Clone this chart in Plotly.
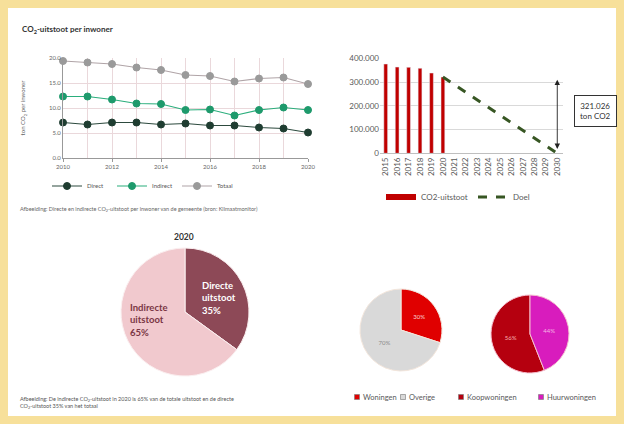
import plotly.graph_objects as go

# ---------------- data ----------------
line_years = [2010, 2011, 2012, 2013, 2014, 2015, 2016, 2017, 2018, 2019, 2020]
direct = [7.1, 6.7, 7.1, 7.1, 6.7, 6.9, 6.5, 6.5, 6.1, 5.9, 5.1]
indirect = [12.3, 12.3, 11.7, 10.9, 10.8, 9.6, 9.7, 8.5, 9.6, 10.1, 9.6]
totaal = [19.4, 19.1, 18.8, 18.1, 17.6, 16.6, 16.4, 15.3, 15.9, 16.1, 14.8]
line_xticks = [2010, 2012, 2014, 2016, 2018, 2020]

bar_years = [2015, 2016, 2017, 2018, 2019, 2020]
uitstoot = [376000, 363000, 362000, 358000, 338000, 321026]
doel_years = [2020, 2030]
doel = [321026, 0]
axis_years = list(range(2015, 2031))
bar_yticks = [0, 100000, 200000, 300000, 400000]
bar_yticktext = ["0", "100.000", "200.000", "300.000", "400.000"]

pie_labels = ["Directe uitstoot", "Indirecte uitstoot"]
pie_values = [35, 65]
pieA_labels = ["Woningen", "Overige"]
pieA_values = [30, 70]
pieB_labels = ["Koopwoningen", "Huurwoningen"]
pieB_values = [56, 44]

# ---------------- helpers ----------------
W, H = 624, 424
def px(x):
    return x / W
def py(y):
    return 1 - y / H

FONT = "Lato"
GREY = "#595959"

fig = go.Figure()

# ---- line chart ----
for name, vals, col, mcol in [("Direct", direct, "#2d4a3e", "#1f3d31"),
                              ("Indirect", indirect, "#2aae7c", "#1e9a6c"),
                              ("Totaal", totaal, "#b0a4a7", "#9a9a9a")]:
    fig.add_trace(go.Scatter(x=line_years, y=vals, name=name, mode="lines+markers",
                             line=dict(color=col, width=1.2),
                             marker=dict(color=mcol, size=7, line=dict(color=mcol, width=1)),
                             xaxis="x", yaxis="y", legend="legend", cliponaxis=False))

# ---- bar chart ----
fig.add_trace(go.Bar(x=bar_years, y=uitstoot, name="CO2-uitstoot", marker_color="#c00000",
                     width=0.33, xaxis="x2", yaxis="y2", showlegend=False))
fig.add_trace(go.Scatter(x=[None], y=[None], name="CO2-uitstoot", mode="lines",
                         line=dict(color="#c00000", width=6), xaxis="x2", yaxis="y2",
                         legend="legend2"))
fig.add_trace(go.Scatter(x=doel_years, y=doel, name="Doel", mode="lines",
                         line=dict(color="#375623", width=3, dash="dash"),
                         xaxis="x2", yaxis="y2", legend="legend2"))

# ---- big pie ----
fig.add_trace(go.Pie(labels=pie_labels, values=pie_values, sort=False, direction="clockwise",
                     rotation=0, textinfo="none", hoverinfo="label+percent",
                     marker=dict(colors=["#8d4957", "#f1c9ce"], line=dict(color="#fbeff0", width=1)),
                     domain=dict(x=[px(121), px(249)], y=[py(376), py(248)]), showlegend=False))

# ---- small pies ----
fig.add_trace(go.Pie(labels=pieA_labels, values=pieA_values, sort=False, direction="clockwise",
                     rotation=0, textinfo="percent", textposition="inside",
                     insidetextorientation="horizontal",
                     textfont=dict(size=6, color=["#f8d0d0", "#8a8a8a"], family=FONT),
                     marker=dict(colors=["#e00000", "#d9d9d9"], line=dict(color="#f3e6dc", width=1)),
                     domain=dict(x=[px(360), px(442)], y=[py(371), py(289)]), showlegend=False))
fig.add_trace(go.Pie(labels=pieB_labels, values=pieB_values, sort=False, direction="clockwise",
                     rotation=158.4, textinfo="percent", textposition="inside",
                     insidetextorientation="horizontal",
                     textfont=dict(size=6, color=["#f5b5b5", "#f5b5e5"], family=FONT),
                     marker=dict(colors=["#b5000f", "#d81cbd"], line=dict(color="#f5c0d0", width=1)),
                     domain=dict(x=[px(491), px(569)], y=[py(373), py(295)]), showlegend=False))

shapes = [
    dict(type="rect", xref="paper", yref="paper", x0=px(8), x1=px(616), y0=py(416), y1=py(8),
         fillcolor="white", line=dict(width=0), layer="below"),
]
annotations = [
    dict(text="<b>CO<sub>2</sub>-uitstoot per inwoner</b>", x=px(20), y=py(29), xref="paper", yref="paper",
         xanchor="left", yanchor="middle", showarrow=False, font=dict(size=8, color="#333", family=FONT)),
    dict(text="Afbeelding: Directe en indirecte CO<sub>2</sub>-uitstoot per inwoner van de gemeente (bron: Klimaatmonitor)",
         x=px(18), y=py(210), xref="paper", yref="paper", xanchor="left", yanchor="middle",
         showarrow=False, font=dict(size=5.5, color="#666", family=FONT)),
    dict(text="<b>2020</b>", x=px(184), y=py(237), xref="paper", yref="paper", showarrow=False,
         xanchor="center", yanchor="middle", font=dict(size=8.5, color="#333", family=FONT)),
    dict(text="<b>Directe<br>uitstoot<br>35%</b>", x=px(200), y=py(298), xref="paper", yref="paper",
         xanchor="left", yanchor="middle", align="left", showarrow=False,
         font=dict(size=9.5, color="white", family=FONT)),
    dict(text="<b>Indirecte<br>uitstoot<br>65%</b>", x=px(128), y=py(320), xref="paper", yref="paper",
         xanchor="left", yanchor="middle", align="left", showarrow=False,
         font=dict(size=9.5, color="#7a3644", family=FONT)),
    dict(text="Afbeelding: De indirecte CO<sub>2</sub>-uitstoot in 2020 is 65% van de totale uitstoot en de directe<br>CO<sub>2</sub>-uitstoot 35% van het totaal",
         x=px(18), y=py(403), xref="paper", yref="paper", xanchor="left", yanchor="middle", align="left",
         showarrow=False, font=dict(size=5.5, color="#555", family=FONT)),
    # double arrow at 2030
    dict(x=2030, y=310000, ax=2030, ay=12000, xref="x2", yref="y2", axref="x2", ayref="y2",
         text="", showarrow=True, arrowside="end+start", arrowhead=2, arrowsize=1.2,
         arrowwidth=0.9, arrowcolor="#222"),
    dict(text="321.026<br>ton CO2", x=px(595), y=py(110.5), xref="paper", yref="paper",
         xanchor="center", yanchor="middle",
         showarrow=False, bordercolor="#333", borderwidth=1, borderpad=5, bgcolor="white",
         font=dict(size=8, color="#333", family=FONT)),
]

# manual legend for the two small pies
leg_items = [("Woningen", "#e00000", 357), ("Overige", "#d9d9d9", 403),
             ("Koopwoningen", "#b5000f", 461), ("Huurwoningen", "#d81cbd", 541)]
for lab, col, x0 in leg_items:
    shapes.append(dict(type="rect", xref="paper", yref="paper", x0=px(x0 - 2.5), x1=px(x0 + 2.5),
                       y0=py(399.5), y1=py(394.5), fillcolor=col, line=dict(color="#777", width=0.6)))
    annotations.append(dict(text=lab, x=px(x0 + 4), y=py(397), xref="paper", yref="paper",
                            xanchor="left", yanchor="middle", showarrow=False,
                            font=dict(size=7.5, color=GREY, family=FONT)))

fig.update_layout(
    width=W, height=H, autosize=False, margin=dict(l=0, r=0, t=0, b=0, autoexpand=False),
    paper_bgcolor="#f7e09a", plot_bgcolor="rgba(0,0,0,0)",
    font=dict(family=FONT, color=GREY),
    xaxis=dict(domain=[px(63), px(308)], range=[2010, 2020], tickvals=line_xticks, automargin=False,
               anchor="y", showgrid=True, gridcolor="#ead8db", gridwidth=1,
               minor=dict(dtick=1, showgrid=True, gridcolor="#ead8db"),
               showline=True, linecolor="#999", ticks="outside", ticklen=3, tickcolor="#999",
               tickfont=dict(size=6, color="#666"), zeroline=False),
    yaxis=dict(domain=[py(158), py(58)], range=[0, 20], tickvals=[0, 5, 10, 15, 20], tickformat=".1f",
               anchor="x", automargin=False,
               showgrid=True, gridcolor="#ead8db", showline=True, linecolor="#999",
               tickfont=dict(size=6, color="#666"), zeroline=False,
               title=dict(text="ton CO<sub>2</sub> per inwoner", font=dict(size=6, color="#666"), standoff=22)),
    xaxis2=dict(domain=[px(380), px(563)], range=[2014.5, 2030.5], tickvals=axis_years,
                anchor="y2", automargin=False,
                tickangle=-90, showgrid=False, showline=True, linecolor="#bfbfbf",
                tickfont=dict(size=8, color=GREY), zeroline=False, ticks=""),
    yaxis2=dict(domain=[py(153.3), py(58.3)], range=[0, 400000], tickvals=bar_yticks,
                anchor="x2", automargin=False,
                ticktext=bar_yticktext, showgrid=True, gridcolor="#d9d9d9", gridwidth=1,
                showline=False, zeroline=False, tickfont=dict(size=8, color=GREY), ticks=""),
    legend=dict(orientation="h", x=px(47), y=py(186), xanchor="left", yanchor="middle",
                font=dict(size=6, color="#555"), itemwidth=30, entrywidth=20, entrywidthmode="pixels",
                bgcolor="rgba(0,0,0,0)"),
    legend2=dict(orientation="h", x=px(381), y=py(197), xanchor="left", yanchor="middle",
                 font=dict(size=8, color=GREY), itemwidth=30, entrywidth=47, entrywidthmode="pixels",
                 bgcolor="rgba(0,0,0,0)"),
    shapes=shapes, annotations=annotations,
)

fig.write_html("out.html", config={"displayModeBar": False},
               post_script="document.body.style.margin='0px';")
